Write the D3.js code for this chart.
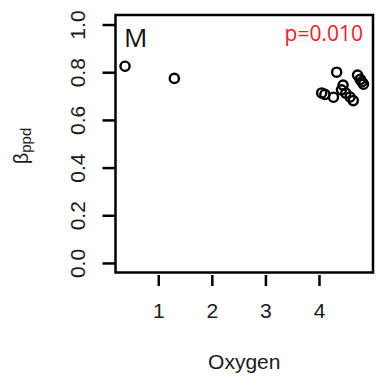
<!DOCTYPE html>
<html>
<head>
<meta charset="utf-8">
<script src="https://cdn.jsdelivr.net/npm/d3@7"></script>
<style>
  html, body { margin: 0; padding: 0; background: #fff; }
  svg { display: block; }
</style>
</head>
<body>
<svg id="chart" width="386" height="376"></svg>
<script>
// Oxygen level vs. beta_ppd, panel M
const oxygen = [0.38, 1.30, 4.33, 4.72, 4.77, 4.80, 4.83, 4.05, 4.11, 4.27, 4.45, 4.42, 4.50, 4.64, 4.58];
const beta   = [0.825, 0.774, 0.80, 0.788, 0.77, 0.76, 0.75, 0.713, 0.707, 0.695, 0.746, 0.726, 0.712, 0.681, 0.696];
const xTicks = [1, 2, 3, 4];
const yTicks = [0.0, 0.2, 0.4, 0.6, 0.8, 1.0];
const panelLabel = "M";
const pLabel = "p=0.010";

const svg = d3.select("#chart");
const box = { left: 115.5, right: 373, top: 15, bottom: 272.5 };

// R-style padded ranges (4% each side)
const xr = d3.extent(oxygen);
const xpad = (xr[1] - xr[0]) * 0.04;
const x = d3.scaleLinear().domain([xr[0] - xpad, xr[1] + xpad]).range([box.left, box.right]);
const y = d3.scaleLinear().domain([-0.04, 1.04]).range([box.bottom, box.top]);

const tickFont = "'Liberation Sans', Arial, Helvetica, sans-serif";

// x axis
const xAxis = svg.append("g").attr("transform", `translate(0,${box.bottom + 2.5})`)
  .call(d3.axisBottom(x).tickValues(xTicks).tickSize(11).tickPadding(17).tickFormat(d3.format("d")));
xAxis.select(".domain").remove();
xAxis.selectAll(".tick line").attr("stroke", "#000").attr("stroke-width", 2.5);
xAxis.selectAll(".tick text").attr("font-family", tickFont).attr("font-size", 21).attr("fill", "#1a1a1a");

// y axis
const yAxis = svg.append("g").attr("transform", `translate(${box.left},0)`)
  .call(d3.axisLeft(y).tickValues(yTicks).tickSize(13).tickFormat(d3.format(".1f")));
yAxis.select(".domain").remove();
yAxis.selectAll(".tick line").attr("stroke", "#000").attr("stroke-width", 2.5);
yAxis.selectAll(".tick text")
  .attr("font-family", tickFont).attr("font-size", 21).attr("fill", "#1a1a1a")
  .attr("x", null).attr("dy", null)
  .attr("text-anchor", "middle")
  .attr("transform", `translate(${85 - box.left},0) rotate(-90)`);

// plot frame
svg.append("rect")
  .attr("x", box.left).attr("y", box.top)
  .attr("width", box.right - box.left).attr("height", box.bottom - box.top)
  .attr("fill", "none").attr("stroke", "#000").attr("stroke-width", 2.5);

// points
svg.append("g").selectAll("circle")
  .data(oxygen.map((d, i) => [d, beta[i]]))
  .join("circle")
  .attr("cx", d => x(d[0])).attr("cy", d => y(d[1]))
  .attr("r", 4.6)
  .attr("fill", "none").attr("stroke", "#000").attr("stroke-width", 2.4);

// axis titles
svg.append("text")
  .attr("x", (box.left + box.right) / 2).attr("y", 369)
  .attr("text-anchor", "middle")
  .attr("font-family", tickFont).attr("font-size", 21).attr("fill", "#1a1a1a")
  .text("Oxygen");

const yl = svg.append("text")
  .attr("transform", "translate(28,146) rotate(-90)")
  .attr("text-anchor", "middle")
  .attr("font-family", tickFont).attr("fill", "#1a1a1a");
yl.append("tspan").attr("font-size", 20).text("β");
yl.append("tspan").attr("font-size", 15).attr("dy", 3).text("ppd");

// panel annotations
svg.append("text")
  .attr("x", 124).attr("y", 47)
  .attr("font-family", "'Open Sans', sans-serif").attr("font-size", 26).attr("fill", "#111")
  .text(panelLabel);

svg.append("text")
  .attr("x", 363).attr("y", 41)
  .attr("text-anchor", "end")
  .attr("font-family", "'Open Sans', sans-serif").attr("font-size", 21).attr("fill", "#ee1c25")
  .text(pLabel);
</script>
</body>
</html>
